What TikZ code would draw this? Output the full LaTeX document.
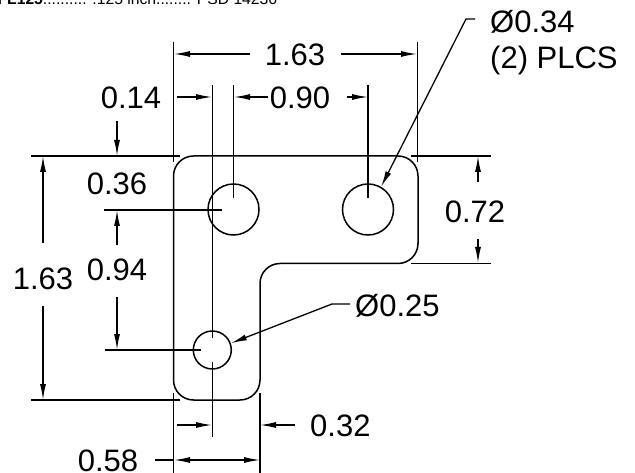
\documentclass[tikz,border=0pt]{standalone}
\usepackage{fontspec}
\setmainfont{Liberation Sans}
\usetikzlibrary{arrows.meta}

\begin{document}
\begin{tikzpicture}[
  x=1pt, y=-1pt,
  part/.style={draw, line width=1.5pt},
  hole/.style={circle, draw, line width=1.5pt, inner sep=0pt},
  ext/.style={line width=1.4pt},
  base/.style={line width=1.6pt},
  dim/.style={-{Latex[length=16pt,width=6pt]}, line width=1.3pt},
  lbl/.style={inner sep=0pt, font=\fontsize{31}{36}\selectfont}
]
\useasboundingbox (0,0) rectangle (635,473);
\clip (0,0) rectangle (635,473);

% Title line, cut off by the page
\node[anchor=base west, inner sep=0pt, font=\fontsize{15.7}{18}\selectfont] (title) at (-2.6,5) {\textbf{FL125}.......... .125 inch........ PSD 14236};

% Plate outline
\draw[part] (193.5,156) -- (398,156) arc[start angle=-90, end angle=0, radius=20] -- (418,243.5)
  arc[start angle=0, end angle=90, radius=20] -- (280,263.5)
  arc[start angle=270, end angle=180, radius=20] -- (260,380)
  arc[start angle=0, end angle=90, radius=20] -- (193.5,400)
  arc[start angle=90, end angle=180, radius=20] -- (173.5,176)
  arc[start angle=180, end angle=270, radius=20];

% Holes
\node[hole, minimum size=51pt] (holea) at (233.5,209.5) {};
\node[hole, minimum size=51pt] (holeb) at (368,209.5) {};
\node[hole, minimum size=38pt] (holec) at (212.3,350) {};

% Extension lines
\draw[ext] (173.5,42) -- (173.5,162);
\draw[ext] (417.7,42) -- (417.7,162);
\draw[ext] (212.3,85) -- (212.3,338);
\draw[ext] (212.3,362) -- (212.3,437);
\draw[ext] (233.5,85) -- (233.5,198);
\draw[ext] (368,85) -- (368,198);
\draw[base] (31,156) -- (180,156);
\draw[base] (411,156) -- (491,156);
\draw[ext] (411,263.5) -- (491,263.5);
\draw[base] (31,400) -- (180,400);
\draw[base] (104,210) -- (222,210);
\draw[ext] (105,350) -- (201,350);
\draw[ext] (173.5,393) -- (173.5,473);
\draw[ext] (260,393) -- (260,473);

% Labels
\node[lbl] (wtop) at (295,55) {1.63};
\node[lbl] (ltop) at (131,98) {0.14};
\node[lbl] (sep) at (300,98) {0.90};
\node[lbl] (ytop) at (117,184) {0.36};
\node[lbl] (ysep) at (117,270) {0.94};
\node[lbl] (hleft) at (43,279) {1.63};
\node[lbl] (hright) at (475,212) {0.72};
\node[lbl, anchor=west] (dbig) at (490,22) {Ø0.34};
\node[lbl, anchor=west] (plcs) at (490,60) {(2) PLCS};
\node[lbl, anchor=west] (dsmall) at (355,306) {Ø0.25};
\node[lbl, anchor=west] (wleg) at (310,426) {0.32};
\node[lbl] (wfoot) at (108,460.5) {0.58};

% Dimension arrows
\draw[dim] (250,54) -- (174,54);
\draw[dim] (341,54) -- (417,54);
\draw[dim] (177,97) -- (212,97);
\draw[dim] (268,97) -- (234,97);
\draw[dim] (347,97) -- (368,97);
\draw[dim] (117,121) -- (117,156);
\draw[dim] (117,245) -- (117,210);
\draw[dim] (117,297) -- (117,350);
\draw[dim] (43,243) -- (43,156);
\draw[dim] (43,306) -- (43,400);
\draw[dim] (478,182) -- (478,156);
\draw[dim] (478,239) -- (478,263);
\draw[dim] (177,425) -- (212,425);
\draw[dim] (295,425) -- (260,425);
\draw[ext] (155,460) -- (174,460);
\draw[{Latex[length=16pt,width=6pt]}-{Latex[length=16pt,width=6pt]}, line width=1.3pt] (174,460) -- (260,460);

% Leaders
\draw[dim] (475,19) -- (466,19) -- (holeb.60);
\draw[dim] (350,304) -- (332,304) -- (holec.20);
\end{tikzpicture}
\end{document}
